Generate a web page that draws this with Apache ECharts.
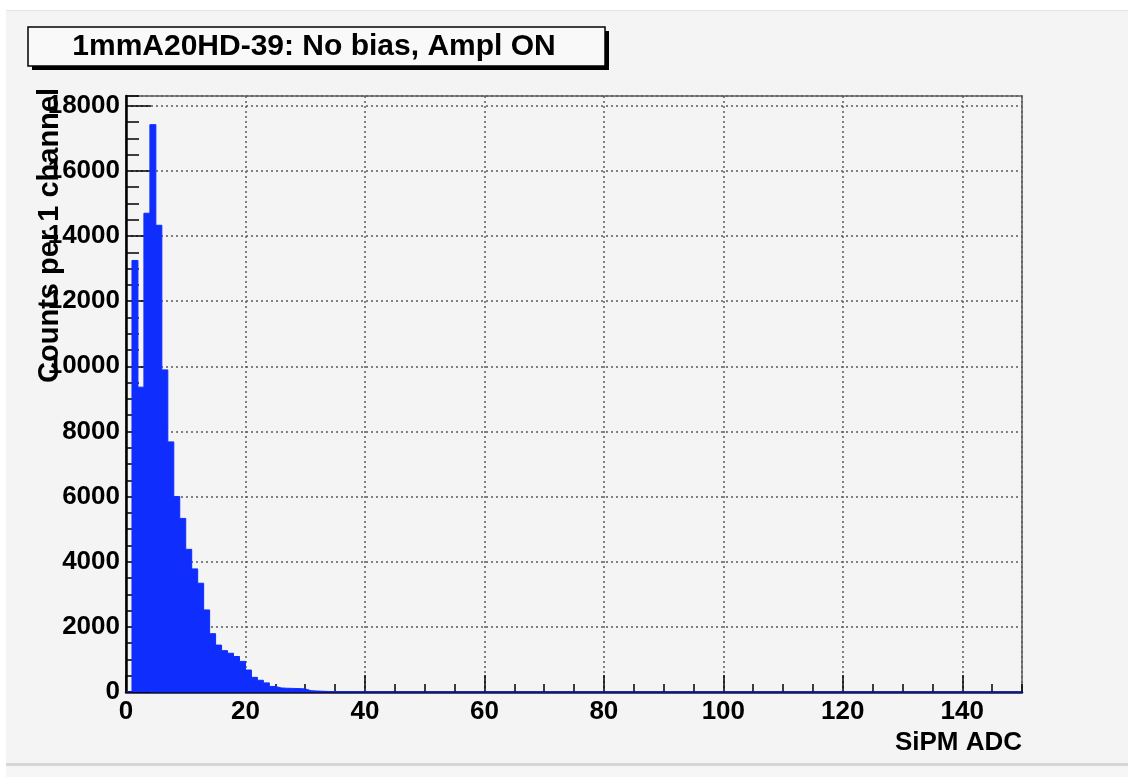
<!DOCTYPE html>
<html>
<head>
<meta charset="utf-8">
<script src="https://cdn.jsdelivr.net/npm/echarts@6/dist/echarts.min.js"></script>
<style>
  html, body { margin: 0; padding: 0; background: #ffffff; }
  #chart { width: 1128px; height: 777px; }
</style>
</head>
<body>
<div id="chart"></div>
<script>
// Histogram: SiPM ADC spectrum, 150 bins of width 1 starting at 0
const histTitle = '1mmA20HD-39: No bias, Ampl ON';
const xTitle = 'SiPM ADC';
const yTitle = 'Counts per 1 channel';
const binStart = 0;
const binWidth = 1;
const counts = [
  0, 13250, 9360, 14700, 17420, 14330, 9890, 7680, 6000, 5330,
  4380, 3780, 3340, 2520, 1790, 1440, 1270, 1190, 1090, 940,
  675, 450, 360, 280, 170, 125, 115, 110, 105, 95,
  40, 30, 22, 16, 12, 10, 8, 6, 5, 4,
  3, 2, 2, 1, 1, 1, 0, 0, 0, 0,
  0, 0, 0, 0, 0, 0, 0, 0, 0, 0,
  0, 0, 0, 0, 0, 0, 0, 0, 0, 0,
  0, 0, 0, 0, 0, 0, 0, 0, 0, 0,
  0, 0, 0, 0, 0, 0, 0, 0, 0, 0,
  0, 0, 0, 0, 0, 0, 0, 0, 0, 0,
  0, 0, 0, 0, 0, 0, 0, 0, 0, 0,
  0, 0, 0, 0, 0, 0, 0, 0, 0, 0,
  0, 0, 0, 0, 0, 0, 0, 0, 0, 0,
  0, 0, 0, 0, 0, 0, 0, 0, 0, 0,
  0, 0, 0, 0, 0, 0, 0, 0, 0, 0
];
const xMin = 0, xMax = 150, xMajor = 20, xMinor = 5;
const yMin = 0, yMax = 18300, yMajor = 2000, yMinor = 500;

// Step outline: one point at each bin's low edge, closed at the last high edge
const steps = counts.map((c, i) => [binStart + i * binWidth, c]);
steps.push([binStart + counts.length * binWidth, counts[counts.length - 1]]);

const FONT = '"Liberation Sans", Arial, Helvetica, sans-serif';
const FILL = '#0f2dfd';
const gridDots = { color: '#5a5a5a', width: 1.5, type: [2, 3] };

const chart = echarts.init(document.getElementById('chart'), null, { renderer: 'canvas' });

chart.setOption({
  backgroundColor: '#f4f4f4',
  animation: false,
  grid: {
    left: 126, right: 106, top: 96, bottom: 85,
    show: true, borderColor: '#808080', borderWidth: 2,
    backgroundColor: 'transparent',
    outerBoundsMode: 'none'
  },
  xAxis: [
    {
      type: 'value', position: 'bottom', min: xMin, max: xMax, interval: xMajor,
      axisLine: { show: true, onZero: false, lineStyle: { color: '#12124a', width: 2.5 } },
      axisTick: { show: true, inside: true, length: 17, lineStyle: { color: '#000', width: 1.5 } },
      axisLabel: {
        show: true, margin: 7, color: '#000', fontSize: 26, fontWeight: 'bold', fontFamily: FONT,
        showMaxLabel: false,
        formatter: v => (v % xMajor === 0 ? String(v) : '')
      },
      splitLine: { show: true, lineStyle: gridDots }
    },
    {
      type: 'value', position: 'bottom', min: xMin, max: xMax, interval: xMinor,
      axisLine: { show: false, onZero: false },
      axisTick: { show: true, inside: true, length: 8, lineStyle: { color: '#000', width: 1.5 } },
      axisLabel: { show: false },
      splitLine: { show: false }
    }
  ],
  yAxis: [
    {
      type: 'value', position: 'left', min: yMin, max: yMax, interval: yMajor,
      axisLine: { show: true, onZero: false, lineStyle: { color: '#000', width: 2.5 } },
      axisTick: { show: true, inside: true, length: 25, lineStyle: { color: '#000', width: 1.5 } },
      axisLabel: {
        show: true, margin: 6, color: '#000', fontSize: 26, fontWeight: 'bold', fontFamily: FONT,
        showMaxLabel: false,
        formatter: v => (v % yMajor === 0 ? String(v) : '')
      },
      splitLine: { show: true, lineStyle: gridDots }
    },
    {
      type: 'value', position: 'left', min: yMin, max: yMax, interval: yMinor,
      axisLine: { show: false, onZero: false },
      axisTick: { show: true, inside: true, length: 13, lineStyle: { color: '#000', width: 1.5 } },
      axisLabel: { show: false },
      splitLine: { show: false }
    }
  ],
  series: [
    {
      type: 'line', xAxisIndex: 0, yAxisIndex: 0,
      step: 'end', symbol: 'none', data: steps,
      lineStyle: { color: FILL, width: 1 },
      areaStyle: { color: FILL, opacity: 1 },
      z: 1
    }
  ],
  graphic: [
    // outer page margins and lower edge of the canvas panel
    { type: 'rect', shape: { x: 0, y: 0, width: 1128, height: 10 }, style: { fill: '#ffffff' }, silent: true },
    { type: 'rect', shape: { x: 0, y: 10, width: 6, height: 767 }, style: { fill: '#ffffff' }, silent: true },
    { type: 'rect', shape: { x: 6, y: 10, width: 1122, height: 1 }, style: { fill: '#e4e4e4' }, silent: true },
    { type: 'rect', shape: { x: 6, y: 763, width: 1122, height: 3 }, style: { fill: '#d6d6d6' }, silent: true },
    { type: 'rect', shape: { x: 6, y: 766, width: 1122, height: 11 }, style: { fill: '#f6f6f6' }, silent: true },
    // histogram title box with drop shadow
    { type: 'rect', shape: { x: 32, y: 31, width: 577, height: 39 }, style: { fill: '#000000' }, silent: true },
    { type: 'rect', shape: { x: 28, y: 27, width: 577, height: 39 }, style: { fill: '#f9f9f9', stroke: '#000', lineWidth: 1.5 }, silent: true },
    {
      type: 'text', x: 314, y: 47,
      style: { text: histTitle, fill: '#000', font: 'bold 30px ' + FONT, align: 'center', verticalAlign: 'middle' },
      silent: true
    },
    // axis titles
    {
      type: 'text', x: 50, y: 88, rotation: Math.PI / 2, z: 100,
      style: { text: yTitle, fill: '#000', font: 'bold 29px ' + FONT, align: 'right', verticalAlign: 'middle' },
      silent: true
    },
    {
      type: 'text', x: 1022, y: 743,
      style: { text: xTitle, fill: '#000', font: 'bold 26px ' + FONT, align: 'right', verticalAlign: 'middle' },
      silent: true
    }
  ]
});
</script>
</body>
</html>
